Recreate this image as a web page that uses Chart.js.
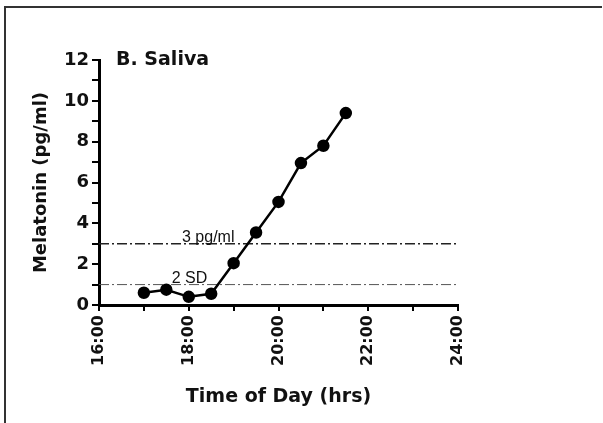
<!DOCTYPE html>
<html>
<head>
<meta charset="utf-8">
<script src="https://cdn.jsdelivr.net/npm/chart.js@4"></script>
<style>
  html, body { margin: 0; padding: 0; background: #fff; }
  #wrap { width: 603px; height: 423px; }
</style>
</head>
<body>
<div id="wrap"><canvas id="chart" width="603" height="423"></canvas></div>
<script>
// sample times (hours of day) and melatonin values (pg/ml)
var times = [17, 17.5, 18, 18.5, 19, 19.5, 20, 20.5, 21, 21.5];
var melatonin = [0.6, 0.75, 0.4, 0.55, 2.05, 3.55, 5.05, 6.95, 7.8, 9.4];

// threshold lines and their labels
var refLevels = [3, 1];
var refLabels = ['3 pg/ml', '2 SD'];
var refLabelAt = [17.85, 17.62];

var xTickHours = [16, 18, 20, 22, 24];
var yTickValues = [0, 2, 4, 6, 8, 10, 12];
var panelTitle = 'B. Saliva';

var points = times.map(function(t, i) { return { x: t, y: melatonin[i] }; });

// frame lines + text annotations
var annotate = {
    id: 'annotate',
    afterDraw: function(chart) {
        var ctx = chart.ctx;
        var xs = chart.scales.x, ys = chart.scales.y;
        ctx.save();
        ctx.strokeStyle = '#333';
        ctx.lineWidth = 2;
        ctx.beginPath();
        ctx.moveTo(5, 423);
        ctx.lineTo(5, 7);
        ctx.lineTo(602, 7);
        ctx.stroke();

        ctx.fillStyle = '#111';
        ctx.font = 'bold 19px "DejaVu Sans"';
        ctx.textAlign = 'left';
        ctx.textBaseline = 'middle';
        ctx.fillText(panelTitle, xs.getPixelForValue(16.38), ys.getPixelForValue(12));

        ctx.font = '16px "Liberation Sans"';
        ctx.textBaseline = 'alphabetic';
        refLevels.forEach(function(v, i) {
            ctx.fillText(refLabels[i], xs.getPixelForValue(refLabelAt[i]), ys.getPixelForValue(v) - 2);
        });
        ctx.restore();
    }
};

var ctx = document.getElementById('chart').getContext('2d');
var chart = new Chart(ctx, {
    type: 'scatter',
    data: {
        datasets: [
            {
                data: points,
                showLine: true,
                borderColor: '#000',
                backgroundColor: '#000',
                borderWidth: 2.5,
                pointRadius: 5,
                pointHoverRadius: 5
            },
            {
                data: [{ x: 16, y: refLevels[0] }, { x: 24, y: refLevels[0] }],
                showLine: true,
                borderColor: '#222',
                borderWidth: 1.5,
                borderDash: [10, 3, 2, 3],
                pointRadius: 0
            },
            {
                data: [{ x: 16, y: refLevels[1] }, { x: 24, y: refLevels[1] }],
                showLine: true,
                borderColor: '#555',
                borderWidth: 1,
                borderDash: [10, 3, 2, 3],
                pointRadius: 0
            }
        ]
    },
    options: {
        responsive: false,
        animation: false,
        layout: { padding: { top: 60, right: 145, left: 0, bottom: 0 } },
        plugins: { legend: { display: false }, tooltip: { enabled: false } },
        scales: {
            x: {
                type: 'linear',
                min: 16,
                max: 24,
                afterFit: function(s) { s.height = 118; },
                border: { display: true, color: '#000', width: 3 },
                grid: { drawOnChartArea: false, drawTicks: true, color: '#000', lineWidth: 2, tickLength: 6 },
                ticks: {
                    stepSize: 1,
                    autoSkip: false,
                    minRotation: 90,
                    maxRotation: 90,
                    padding: 4,
                    color: '#111',
                    font: { family: 'DejaVu Sans', weight: 'bold', size: 16 },
                    callback: function(v) {
                        return xTickHours.indexOf(v) >= 0 ? v + ':00' : '';
                    }
                },
                title: {
                    display: true,
                    text: 'Time of Day (hrs)',
                    color: '#111',
                    font: { family: 'DejaVu Sans', weight: 'bold', size: 19 },
                    padding: { top: 0, bottom: 15 }
                }
            },
            y: {
                min: 0,
                max: 12,
                afterFit: function(s) { s.width = 99; },
                border: { display: true, color: '#000', width: 3 },
                grid: { drawOnChartArea: false, drawTicks: true, color: '#000', lineWidth: 2, tickLength: 7 },
                ticks: {
                    stepSize: 1,
                    autoSkip: false,
                    padding: 3,
                    color: '#111',
                    font: { family: 'DejaVu Sans', weight: 'bold', size: 18 },
                    callback: function(v) {
                        return yTickValues.indexOf(v) >= 0 ? v : '';
                    }
                },
                title: {
                    display: true,
                    text: 'Melatonin (pg/ml)',
                    color: '#111',
                    font: { family: 'DejaVu Sans', weight: 'bold', size: 18 },
                    padding: { top: 31, bottom: 0 }
                }
            }
        }
    },
    plugins: [annotate]
});
</script>
</body>
</html>
